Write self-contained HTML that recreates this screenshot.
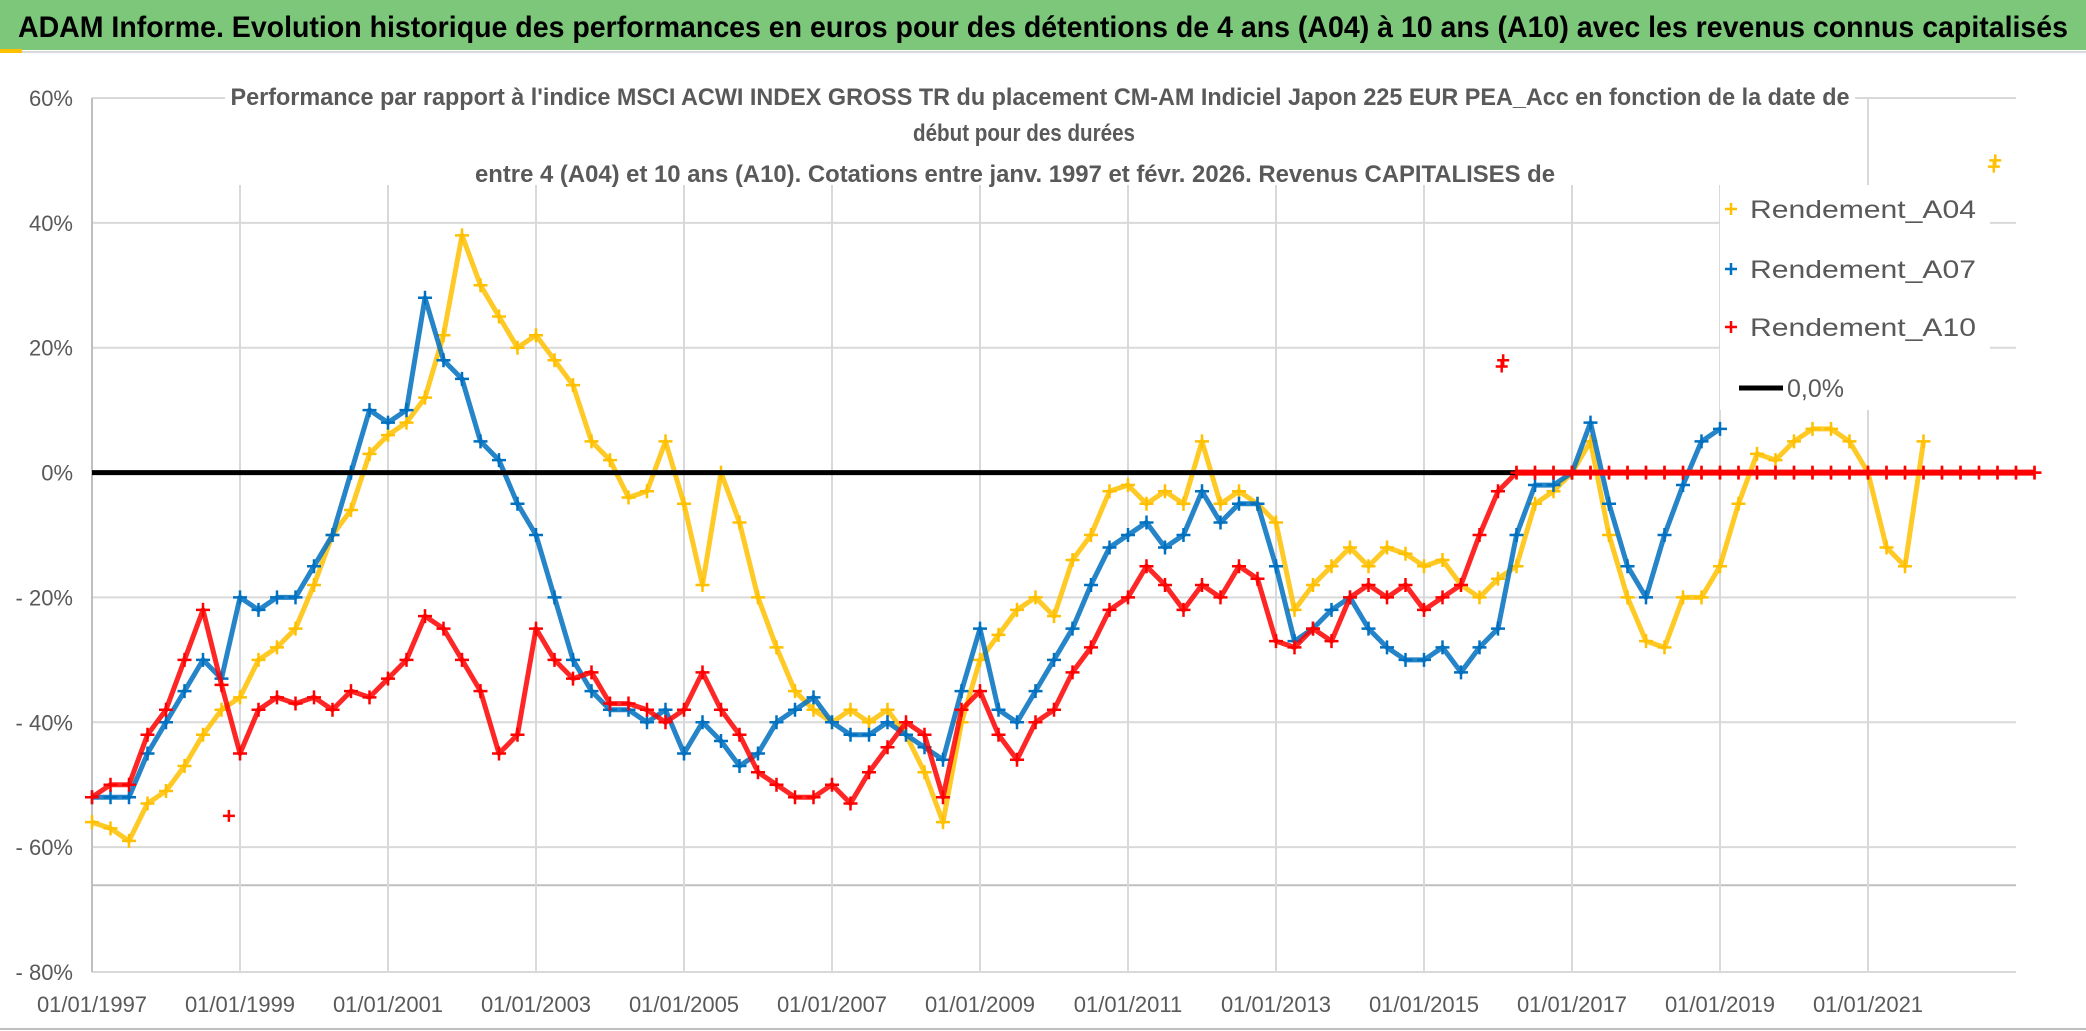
<!DOCTYPE html>
<html><head><meta charset="utf-8"><style>
html,body{margin:0;padding:0;background:#fff;}
svg{display:block;font-family:"Liberation Sans Narrow","Liberation Sans",sans-serif;}
</style></head><body>
<svg id="chart" width="2086" height="1031" viewBox="0 0 2086 1031">
<rect x="0" y="0" width="2086" height="50" fill="#7DC77B"/>
<rect x="0" y="49" width="22" height="4" fill="#FFC000"/>
<line x1="22" y1="52" x2="2086" y2="52" stroke="#d9d9d9" stroke-width="2"/>
<text x="1043" y="37" text-anchor="middle" font-size="30" font-weight="bold" fill="#000" textLength="2050" lengthAdjust="spacingAndGlyphs">ADAM Informe. Evolution historique des performances en euros pour des détentions de 4 ans (A04) à 10 ans (A10) avec les revenus connus capitalisés</text>
<g id="grid"></g>
<g id="axes"></g>
<rect x="225" y="75" width="1630" height="110" fill="#fff"/>
<g fill="#595959" font-weight="bold" font-size="24" text-anchor="middle">
<text x="1040" y="105" textLength="1619" lengthAdjust="spacingAndGlyphs">Performance par rapport à l'indice MSCI ACWI INDEX GROSS TR  du placement CM-AM Indiciel Japon 225 EUR PEA_Acc en fonction de la date de</text>
<text x="1024" y="141" textLength="222" lengthAdjust="spacingAndGlyphs">début pour des durées</text>
<text x="1015" y="182" textLength="1080" lengthAdjust="spacingAndGlyphs">entre 4 (A04) et 10 ans (A10). Cotations entre janv. 1997 et févr. 2026. Revenus CAPITALISES de</text>
</g>
<g id="series"></g>
<g id="legend">
<rect x="1720" y="185" width="270" height="225" fill="#fff"/>
</g>
<line x1="0" y1="1029" x2="2086" y2="1029" stroke="#bfbfbf" stroke-width="2"/>
</svg>
<script>
const yTicks = [60, 40, 20, 0, -20, -40, -60, -80];
const yTickLabels = ["60%", "40%", "20%", "0%", "- 20%", "- 40%", "- 60%", "- 80%"];
const xTickYears = [1997, 1999, 2001, 2003, 2005, 2007, 2009, 2011, 2013, 2015, 2017, 2019, 2021];
const xTickLabels = ["01/01/1997","01/01/1999","01/01/2001","01/01/2003","01/01/2005","01/01/2007","01/01/2009","01/01/2011","01/01/2013","01/01/2015","01/01/2017","01/01/2019","01/01/2021"];
const seriesStart = 1997;
const seriesStep = 0.25;
const a04Values = [-56,-57,-59,-53,-51,-47,-42,-38,-36,-30,-28,-25,-18,-10,-6,3,6,8,12,22,38,30,25,20,22,18,14,5,2,-4,-3,5,-5,-18,0,-8,-20,-28,-35,-38,-40,-38,-40,-38,-42,-48,-56,-40,-30,-26,-22,-20,-23,-14,-10,-3,-2,-5,-3,-5,5,-5,-3,-5,-8,-22,-18,-15,-12,-15,-12,-13,-15,-14,-18,-20,-17,-15,-5,-3,0,5,-10,-20,-27,-28,-20,-20,-15,-5,3,2,5,7,7,5,0,-12,-15,5];
const a07Values = [-52,-52,-52,-45,-40,-35,-30,-33,-20,-22,-20,-20,-15,-10,0,10,8,10,28,18,15,5,2,-5,-10,-20,-30,-35,-38,-38,-40,-38,-45,-40,-43,-47,-45,-40,-38,-36,-40,-42,-42,-40,-42,-44,-46,-35,-25,-38,-40,-35,-30,-25,-18,-12,-10,-8,-12,-10,-3,-8,-5,-5,-15,-27,-25,-22,-20,-25,-28,-30,-30,-28,-32,-28,-25,-10,-2,-2,0,8,-5,-15,-20,-10,-2,5,7];
const a10Values = [-52,-50,-50,-42,-38,-30,-22,-34,-45,-38,-36,-37,-36,-38,-35,-36,-33,-30,-23,-25,-30,-35,-45,-42,-25,-30,-33,-32,-37,-37,-38,-40,-38,-32,-38,-42,-48,-50,-52,-52,-50,-53,-48,-44,-40,-42,-52,-38,-35,-42,-46,-40,-38,-32,-28,-22,-20,-15,-18,-22,-18,-20,-15,-17,-27,-28,-25,-27,-20,-18,-20,-18,-22,-20,-18,-10,-3,0,0,0,0,0,0,0,0,0,0,0,0,0,0,0,0,0,0,0,0,0,0,0,0,0,0,0,0,0];
const a04ExtraYears = [2022.7, 2022.72];
const a04ExtraValues = [49, 50];
const a10ExtraYears = [1998.85, 2016.05, 2016.07];
const a10ExtraValues = [-55, 17, 18];

const NS = "http://www.w3.org/2000/svg";
const X0 = 92, X1 = 2016, YEAR0 = 1997, YEAR1 = 2023;
const Y_TOP = 98, Y_BOT = 972, VMAX = 60, VMIN = -80;
function xs(yr){ return X0 + (yr - YEAR0) / (YEAR1 - YEAR0) * (X1 - X0); }
function ys(v){ return Y_TOP + (VMAX - v) / (VMAX - VMIN) * (Y_BOT - Y_TOP); }
function mk(tag, attrs, parent){ const e = document.createElementNS(NS, tag); for (const k in attrs) e.setAttribute(k, attrs[k]); parent.appendChild(e); return e; }

const grid = document.getElementById('grid');
const axes = document.getElementById('axes');
yTicks.forEach((v, i) => {
  const l = mk('line', {x1: X0, x2: X1, y1: ys(v), y2: ys(v), stroke: '#d9d9d9', 'stroke-width': 2}, grid);
  
  
  const t = mk('text', {x: 73, y: ys(v) + 8, 'text-anchor': 'end', 'font-size': 22, fill: '#595959'}, axes);
  t.textContent = yTickLabels[i];
  
  
});
const extra = mk('line', {x1: X0, x2: X1, y1: ys(-66.1), y2: ys(-66.1), stroke: '#bfbfbf', 'stroke-width': 2}, grid);


xTickYears.forEach((yr, i) => {
  const l = mk('line', {x1: xs(yr), x2: xs(yr), y1: Y_TOP, y2: Y_BOT, stroke: '#d9d9d9', 'stroke-width': 2}, grid);
  
  
  const t = mk('text', {x: xs(yr), y: 1012, 'text-anchor': 'middle', 'font-size': 22, fill: '#595959'}, axes);
  t.textContent = xTickLabels[i];
  
  
});
const yAxis = mk('line', {x1: X0, x2: X0, y1: Y_TOP, y2: Y_BOT, stroke: '#bfbfbf', 'stroke-width': 2}, axes);



const seriesG = document.getElementById('series');
function plus(g, x, y, color, s){
  mk('path', {d: `M${x-s},${y}H${x+s}M${x},${y-s}V${y+s}`, stroke: color, 'stroke-width': 2.5, fill: 'none'}, g);
}
function drawSeries(values, color, name, extraYears, extraValues){
  const g = mk('g', {}, seriesG);
  
  
  let d = '';
  values.forEach((v, i) => { const yr = seriesStart + i * seriesStep; d += (i ? 'L' : 'M') + xs(yr).toFixed(1) + ',' + ys(v).toFixed(1); });
  mk('path', {d: d, stroke: color, 'stroke-width': 5, fill: 'none', 'stroke-linejoin': 'round', opacity: 0.85}, g);
  values.forEach((v, i) => { const yr = seriesStart + i * seriesStep; plus(g, xs(yr), ys(v), color, 7); });
  extraYears.forEach((yr, i) => plus(g, xs(yr), ys(extraValues[i]), color, 6));
}
drawSeries(a04Values, '#FFC000', 'series-a04', a04ExtraYears, a04ExtraValues);
drawSeries(a07Values, '#0070C0', 'series-a07', [], []);
drawSeries(a10Values, '#FF0000', 'series-a10', a10ExtraYears, a10ExtraValues);
const zero = mk('line', {x1: X0, x2: X1, y1: ys(0), y2: ys(0), stroke: '#000', 'stroke-width': 5}, seriesG);


const redTail = mk('g', {}, seriesG);


a10Values.forEach((v, i) => { const yr = seriesStart + i * seriesStep; if (yr >= 2016.25) plus(redTail, xs(yr), ys(v), '#FF0000', 6); });
if (a10Values.length) mk('path', {d: `M${xs(2016.25)},${ys(0)}H${xs(seriesStart + (a10Values.length - 1) * seriesStep)}`, stroke: '#FF0000', 'stroke-width': 6}, redTail);

const legend = document.getElementById('legend');
const legItems = [["Rendement_A04", '#FFC000', 209], ["Rendement_A07", '#0070C0', 269], ["Rendement_A10", '#FF0000', 327]];
legItems.forEach(it => {
  const g = mk('g', {}, legend);
  
  
  plus(g, 1731, it[2], it[1], 6);
  const t = mk('text', {x: 1750, y: it[2] + 9, 'font-size': 25, fill: '#595959', textLength: 226, lengthAdjust: 'spacingAndGlyphs'}, g);
  t.textContent = it[0];
});
const lg = mk('g', {}, legend);


mk('line', {x1: 1739, x2: 1783, y1: 388, y2: 388, stroke: '#000', 'stroke-width': 5}, lg);
const lt = mk('text', {x: 1787, y: 397, 'font-size': 25, fill: '#595959'}, lg);
lt.textContent = '0,0%';
</script>
</body></html>
